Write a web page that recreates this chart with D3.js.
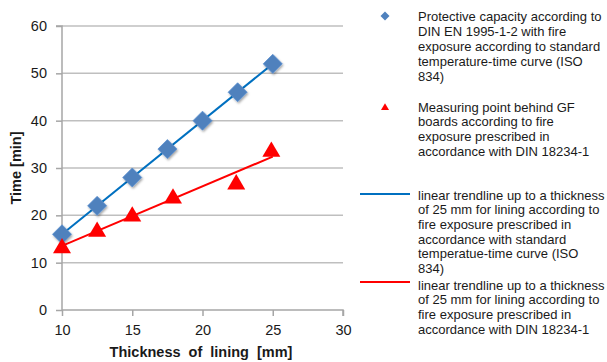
<!DOCTYPE html>
<html><head><meta charset="utf-8">
<script src="https://cdn.jsdelivr.net/npm/d3@7"></script>
<style>body{margin:0;background:#fff}svg{display:block;font-family:"Liberation Sans",Arial,sans-serif}</style>
</head><body><svg id="c" width="607" height="362"></svg>
<script>
const xTicks = [10, 15, 20, 25, 30];
const yTicks = [0, 10, 20, 30, 40, 50, 60];
const blueX = [10, 12.5, 15, 17.5, 20, 22.5, 25];
const blueY = [16, 22, 28, 34, 40, 46, 52];
const redX = [10, 12.5, 15, 17.9, 22.4, 24.9];
const redY = [13.4, 16.9, 20.1, 23.9, 26.9, 33.8];
const trendRange = [10, 25];
const legend1 = ["Protective capacity according to", "DIN EN 1995-1-2 with fire", "exposure according to standard", "temperature-time curve (ISO", "834)"];
const legend2 = ["Measuring point behind GF", "boards according to fire", "exposure prescribed in", "accordance with DIN 18234-1"];
const legend3 = ["linear trendline up to a thickness", "of 25 mm for lining  according to", "fire exposure prescribed in", "accordance with  standard", "temperatue-time curve (ISO", "834)"];
const legend4 = ["linear trendline up to a thickness", "of 25 mm for lining  according to", "fire exposure prescribed in", "accordance with DIN 18234-1"];

const svg = d3.select("#c");
const x = d3.scaleLinear().domain([10, 30]).range([62, 343]);
const y = d3.scaleLinear().domain([0, 60]).range([310, 26]);
const grid = "#bfbfbf", axisC = "#a6a6a6", txt = "#1a1a1a";

svg.append("g").selectAll("line").data(yTicks.filter(d => d > 0)).join("line")
  .attr("x1", x(10)).attr("x2", x(30)).attr("y1", d => y(d)).attr("y2", d => y(d))
  .attr("stroke", grid).attr("stroke-width", 1.5);

const ya = svg.append("g").attr("transform", `translate(${x(10)},0)`)
  .call(d3.axisLeft(y).tickValues(yTicks).tickSize(6).tickPadding(9));
const xa = svg.append("g").attr("transform", `translate(0,${y(0)})`)
  .call(d3.axisBottom(x).tickValues(xTicks).tickSize(6).tickPadding(9));
[ya, xa].forEach(a => {
  a.select(".domain").attr("stroke", axisC).attr("stroke-width", 1.5);
  a.selectAll(".tick line").attr("stroke", axisC).attr("stroke-width", 1.5);
  a.selectAll("text").attr("fill", txt).style("font-size", "14.5px").style("font-family", '"Liberation Sans",Arial,sans-serif');
});
ya.select(".domain").attr("d", `M-6,${y(60)}H0V${y(0)}`);
xa.select(".domain").attr("d", `M${x(10)},0H${x(30)}V6`);

svg.append("text").attr("x", 201).attr("y", 357).attr("text-anchor", "middle")
  .attr("font-weight", "bold").attr("font-size", 14.5).attr("fill", txt).attr("word-spacing", 4)
  .text("Thickness of lining [mm]");
svg.append("text").attr("transform", `translate(21,${(y(0)+y(60))/2}) rotate(-90)`)
  .attr("text-anchor", "middle").attr("font-weight", "bold").attr("font-size", 14.5).attr("fill", txt)
  .text("Time [min]");

function fit(xs, ys) {
  const mx = d3.mean(xs), my = d3.mean(ys);
  const b = d3.sum(xs, (v, i) => (v - mx) * (ys[i] - my)) / d3.sum(xs, v => (v - mx) ** 2);
  return v => my + b * (v - mx);
}
const fb = fit(blueX, blueY), fr = fit(redX, redY);
svg.append("line").attr("x1", x(trendRange[0])).attr("x2", x(trendRange[1]))
  .attr("y1", y(fb(trendRange[0]))).attr("y2", y(fb(trendRange[1])))
  .attr("stroke", "#0070c0").attr("stroke-width", 2);
svg.append("line").attr("x1", x(trendRange[0])).attr("x2", x(trendRange[1]))
  .attr("y1", y(fr(trendRange[0]))).attr("y2", y(fr(trendRange[1])))
  .attr("stroke", "#ff0000").attr("stroke-width", 2);

const diamond = r => `M0,${-r}L${r},0L0,${r}L${-r},0Z`;
const tri = s => `M0,${-s*0.95}L${s},${s*0.75}L${-s},${s*0.75}Z`;
const defs = svg.append("defs");
defs.append("filter").attr("id", "sh").attr("x", "-50%").attr("y", "-50%").attr("width", "200%").attr("height", "200%")
  .append("feDropShadow").attr("dx", 1).attr("dy", 1.5).attr("stdDeviation", 1.2).attr("flood-color", "#000").attr("flood-opacity", 0.35);
svg.append("g").selectAll("path").data(blueX).join("path")
  .attr("transform", (d, i) => `translate(${x(d)},${y(blueY[i])})`)
  .attr("d", diamond(9.5)).attr("fill", "#4f81bd").attr("stroke", "#5b8fd0").attr("stroke-width", 0.8)
  .attr("filter", "url(#sh)");
svg.append("g").selectAll("path").data(redX).join("path")
  .attr("transform", (d, i) => `translate(${x(d)},${y(redY[i])})`)
  .attr("d", tri(9)).attr("fill", "#ff0000");

function block(lines, y0, dy) {
  const t = svg.append("text").attr("font-size", 13).attr("fill", txt);
  lines.forEach((l, i) => t.append("tspan").attr("x", 418).attr("y", y0 + i * dy).text(l));
}
svg.append("path").attr("transform", "translate(385,16)").attr("d", diamond(4.5)).attr("fill", "#4f81bd");
block(legend1, 20.5, 15);
svg.append("path").attr("transform", "translate(385,107)").attr("d", tri(4)).attr("fill", "#ff0000");
block(legend2, 111.5, 14.7);
svg.append("line").attr("x1", 360).attr("x2", 410).attr("y1", 194).attr("y2", 194).attr("stroke", "#0070c0").attr("stroke-width", 2);
block(legend3, 199.5, 14.7);
svg.append("line").attr("x1", 360).attr("x2", 410).attr("y1", 282).attr("y2", 282).attr("stroke", "#ff0000").attr("stroke-width", 2);
block(legend4, 289.5, 14.7);
</script></body></html>
